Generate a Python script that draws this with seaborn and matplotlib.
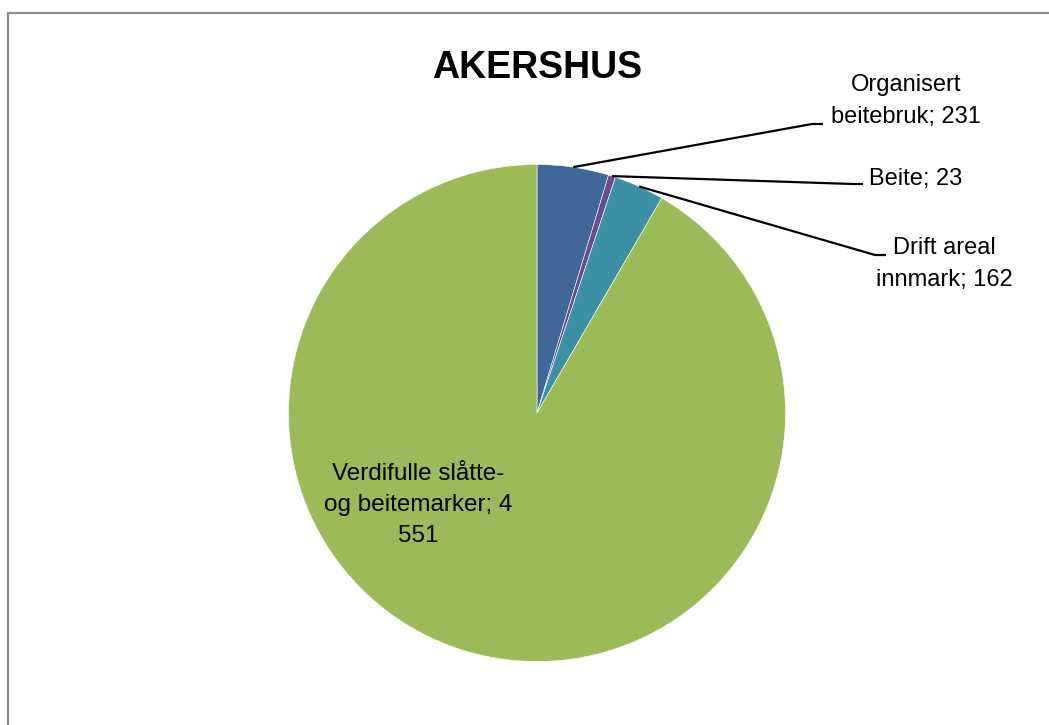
import numpy as np
import seaborn as sns
import matplotlib.pyplot as plt
from matplotlib.patches import Rectangle

# Data
categories = ['Organisert\nbeitebruk', 'Beite', 'Drift areal\ninnmark',
              'Verdifulle slåtte-\nog beitemarker']
values = [231, 23, 162, 4551]
value_labels = ['231', '23', '162', '4\n551']
colors = ['#3F6797', '#6A4C8C', '#3B90A5', '#9BBB59']
title = 'AKERSHUS'

sns.set_theme(style='white')
plt.rcParams['font.family'] = ['Liberation Sans', 'DejaVu Sans']

W, H = 1049, 725
fig = plt.figure(figsize=(W / 100, H / 100), dpi=100)
ax = fig.add_axes([0, 0, 1, 1])

# pie geometry in pixel coords (y measured from bottom)
cx, cy, r = 537, H - 413, 248.5
wedges, _ = ax.pie(values, colors=colors, startangle=90, counterclock=False,
                   center=(cx, cy), radius=r, frame=True,
                   wedgeprops=dict(linewidth=0.4, edgecolor='white'))
ax.set_xlim(0, W)
ax.set_ylim(0, H)
ax.axis('off')

# outer labels with leader lines (pixel positions from the reference, top-down)
outer = {
    0: dict(elbow=[(812, 124), (823, 124)], text=(906, 101)),
    1: dict(elbow=[(853, 184), (863, 184)], text=(916, 179)),
    2: dict(elbow=[(875, 255), (886, 255)], text=(944, 264)),
}
for i, spec in outer.items():
    w = wedges[i]
    mid = np.deg2rad((w.theta1 + w.theta2) / 2)
    x0, y0 = cx + r * np.cos(mid), cy + r * np.sin(mid)
    xs = [x0] + [p[0] for p in spec['elbow']]
    ys = [y0] + [H - p[1] for p in spec['elbow']]
    ax.plot(xs, ys, color='black', lw=1.6, solid_capstyle='butt')
    tx, ty = spec['text']
    ax.text(tx, H - ty, f"{categories[i]}; {value_labels[i]}", ha='center',
            va='center', fontsize=17, linespacing=1.62, color='black')

# label inside the big slice
ax.text(418, H - 505, f"{categories[3]}; {value_labels[3]}", ha='center',
        va='center', fontsize=17.5, linespacing=1.55, color='black')

ax.text(537, H - 68, title, ha='center', va='center', fontsize=27,
        fontweight='bold', color='black')

# chart area border (top and left visible)
ax.add_patch(Rectangle((8, -20), W + 50, H - 13 + 20, fill=False,
                       edgecolor='#8C8C8C', lw=1.6, clip_on=True))

fig.savefig('out.png', dpi=100)
